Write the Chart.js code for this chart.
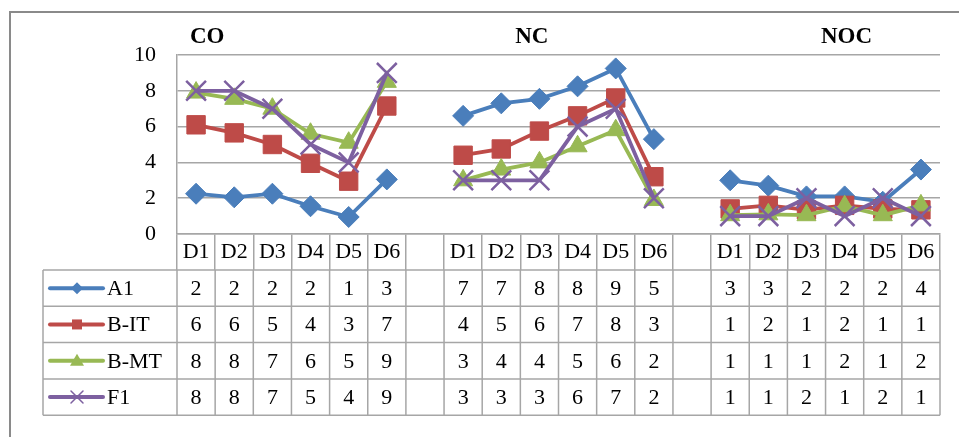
<!DOCTYPE html>
<html>
<head>
<meta charset="utf-8">
<script src="https://cdn.jsdelivr.net/npm/chart.js@4/dist/chart.umd.min.js"></script>
<style>
  body { margin: 0; background: #fff; }
</style>
</head>
<body>
<canvas id="chart1" width="959" height="437"></canvas>
<script>
const ctx = document.getElementById("chart1").getContext("2d")

// groups and day columns
const groups = ["CO", "NC", "NOC"]
const days = ["D1", "D2", "D3", "D4", "D5", "D6"]
const yTicks = [0, 2, 4, 6, 8, 10]

// plotted values, one list per group (the table shows them rounded)
const a1   = [[2.25, 2.05, 2.25, 1.55, 0.95, 3.05], [6.6, 7.3, 7.55, 8.25, 9.25, 5.3], [3.0, 2.7, 2.1, 2.1, 1.8, 3.6]]
const bIT  = [[6.1, 5.65, 5.0, 3.95, 2.95, 7.15], [4.4, 4.75, 5.75, 6.6, 7.6, 3.2], [1.4, 1.6, 1.35, 1.6, 1.4, 1.35]]
const bMT  = [[7.9, 7.55, 7.0, 5.6, 5.1, 8.5], [3.0, 3.6, 4.0, 4.9, 5.8, 1.9], [1.05, 1.1, 1.05, 1.55, 1.05, 1.6]]
const f1   = [[8, 8, 7, 5, 4, 9], [3, 3, 3, 6, 7, 2], [1, 1, 2, 1, 2, 1]]

const seriesNames = ["A1", "B-IT", "B-MT", "F1"]
const seriesColors = ["#4a7ebb", "#be4b48", "#98b954", "#7d60a0"]

const FONT = "'Liberation Serif', 'DejaVu Serif', serif"
const GRID = "#a6a6a6"

// one blank column between groups
function flatten(arr){
    let out = []
    arr.forEach((g, i) => {
        out = out.concat(g)
        if(i < arr.length - 1) out.push(null)
    })
    return out
}
const labels = flatten(groups.map(() => days.slice())).map(l => l === null ? "" : l)

function makeSet(i, data, style, radius){
    return {
        label: seriesNames[i],
        data: flatten(data),
        borderColor: seriesColors[i],
        backgroundColor: seriesColors[i],
        borderWidth: 3.8,
        pointStyle: style,
        pointRadius: radius,
        pointHoverRadius: radius,
        pointBorderWidth: style === "crossRot" ? 2.5 : 1,
        spanGaps: false,
        tension: 0,
        order: 4 - i
    }
}

// draws white background, outer frame, group titles and the data table
const tablePlugin = {
    id: "tablePlugin",
    beforeDraw(chart){
        const c = chart.ctx
        c.save()
        c.fillStyle = "#fff"
        c.fillRect(0, 0, chart.width, chart.height)
        c.strokeStyle = "#8a8a8a"
        c.lineWidth = 2
        c.strokeRect(10, 12, chart.width + 20, chart.height + 20)
        c.restore()
    },
    afterDraw(chart){
        const c = chart.ctx
        const x = chart.scales.x
        const n = labels.length
        const colW = (x.right - x.left) / n
        const rowH = 36.3
        const top = x.bottom
        const tableLeft = 43
        const rows = [a1, bIT, bMT, f1]
        const styles = ["rectRot", "rect", "triangle", "crossRot"]

        c.save()
        // group titles
        c.fillStyle = "#000"
        c.font = "bold 23px " + FONT
        c.textAlign = "center"
        c.textBaseline = "middle"
        const titlePos = [0.29, 8.8, 17.05]
        groups.forEach((g, i) => {
            c.fillText(g, x.getPixelForValue(0) + titlePos[i] * colW, 37)
        })

        // table lines
        c.strokeStyle = GRID
        c.lineWidth = 1.5
        c.beginPath()
        for(let r = 0; r <= rows.length; r++){
            const y = top + r * rowH
            c.moveTo(tableLeft, y)
            c.lineTo(x.right, y)
        }
        const bottom = top + rows.length * rowH
        for(let i = 0; i <= n; i++){
            const xx = x.left + i * colW
            c.moveTo(xx, top)
            c.lineTo(xx, bottom)
        }
        c.moveTo(tableLeft, top)
        c.lineTo(tableLeft, bottom)
        c.stroke()

        // values and row headers
        c.font = "22px " + FONT
        rows.forEach((data, r) => {
            const yMid = top + (r + 0.5) * rowH
            const vals = flatten(data)
            vals.forEach((v, i) => {
                if(v === null) return
                c.fillStyle = "#000"
                c.textAlign = "center"
                c.fillText(String(Math.round(v)), x.getPixelForValue(i), yMid + 1)
            })
            // legend key
            c.strokeStyle = seriesColors[r]
            c.fillStyle = seriesColors[r]
            c.lineWidth = 4
            c.lineCap = "round"
            c.beginPath()
            c.moveTo(50, yMid)
            c.lineTo(103, yMid)
            c.stroke()
            drawKey(c, styles[r], 77, yMid)
            c.fillStyle = "#000"
            c.textAlign = "left"
            c.fillText(seriesNames[r], 107, yMid + 1)
        })
        c.restore()
    }
}

function drawKey(c, style, cx, cy){
    c.beginPath()
    if(style === "rectRot"){
        c.moveTo(cx, cy - 6); c.lineTo(cx + 6, cy); c.lineTo(cx, cy + 6); c.lineTo(cx - 6, cy)
        c.closePath(); c.fill()
    } else if(style === "rect"){
        c.fillRect(cx - 5, cy - 5, 10, 10)
    } else if(style === "triangle"){
        c.moveTo(cx, cy - 7); c.lineTo(cx + 7, cy + 5); c.lineTo(cx - 7, cy + 5)
        c.closePath(); c.fill()
    } else {
        c.lineWidth = 1.5
        c.moveTo(cx - 6, cy - 6); c.lineTo(cx + 6, cy + 6)
        c.moveTo(cx + 6, cy - 6); c.lineTo(cx - 6, cy + 6)
        c.stroke()
    }
}

const chart = new Chart(ctx, {
    type: "line",
    data: {
        labels: labels,
        datasets: [
            makeSet(0, a1, "rectRot", 10.5),
            makeSet(1, bIT, "rect", 13),
            makeSet(2, bMT, "triangle", 11),
            makeSet(3, f1, "crossRot", 14)
        ]
    },
    options: {
        responsive: false,
        animation: false,
        devicePixelRatio: 1,
        layout: { padding: { top: 55, right: 19, bottom: 167, left: 0 } },
        plugins: {
            legend: { display: false },
            tooltip: { enabled: false }
        },
        scales: {
            x: {
                offset: true,
                grid: { drawOnChartArea: false, offset: true, tickLength: 36, color: GRID, lineWidth: 1.5 },
                border: { display: true, color: GRID, width: 1.5 },
                ticks: { padding: -31, color: "#000", font: { family: FONT, size: 22 }, maxRotation: 0, autoSkip: false },
                afterFit: s => { s.height = 36 }
            },
            y: {
                min: 0,
                max: 10,
                afterBuildTicks: s => { s.ticks = yTicks.map(v => ({ value: v })) },
                grid: { color: GRID, lineWidth: 1.5, drawTicks: false },
                border: { display: true, color: GRID, width: 1.5 },
                ticks: { padding: 21, color: "#000", font: { family: FONT, size: 22 } },
                afterFit: s => { s.width = 177 }
            }
        }
    },
    plugins: [tablePlugin]
})
</script>
</body>
</html>
